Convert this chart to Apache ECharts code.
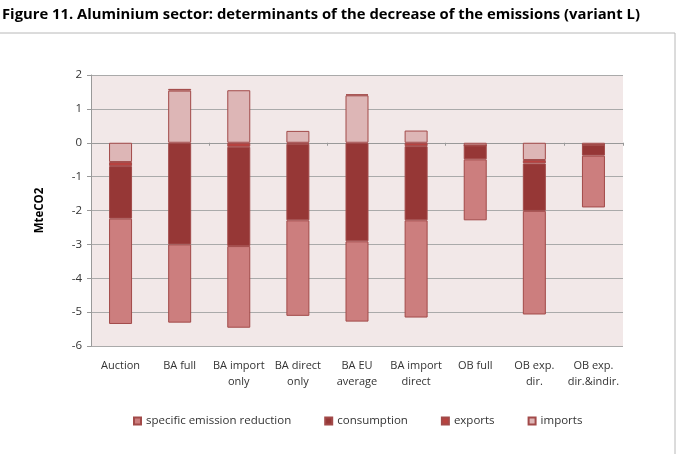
<!DOCTYPE html>
<html>
<head>
<meta charset="utf-8">
<script src="https://cdn.jsdelivr.net/npm/echarts@6/dist/echarts.min.js"></script>
<style>
html,body{margin:0;padding:0;background:#fff;}
#chart{width:679px;height:454px;}
</style>
</head>
<body>
<div id="chart"></div>
<script type="text/javascript">
var categories = ['Auction', 'BA full', 'BA import\nonly', 'BA direct\nonly', 'BA EU\naverage', 'BA import\ndirect', 'OB full', 'OB exp.\ndir.', 'OB exp.\ndir.&indir.'];
var specificReduction = [-3.11, -2.31, -2.41, -2.82, -2.37, -2.87, -1.80, -3.06, -1.53];
var consumption = [-1.55, -3.00, -2.93, -2.26, -2.91, -2.19, -0.41, -1.40, -0.32];
var exportsVals = [-0.12, 0.05, -0.12, -0.03, 0.03, -0.10, 0, -0.10, 0];
var importsVals = [-0.57, 1.54, 1.55, 0.35, 1.40, 0.36, -0.08, -0.51, -0.06];

var fnt = 'Open Sans';
var barBorder = '#A24A49';
function mkSeries(name, data, color) {
    return {
        name: name,
        type: 'bar',
        stack: 'total',
        barWidth: 23,
        data: data,
        itemStyle: {color: color, borderColor: barBorder, borderWidth: 1},
        emphasis: {disabled: true}
    };
}

var chart = echarts.init(document.getElementById('chart'));
var option = {
    animation: false,
    backgroundColor: '#ffffff',
    textStyle: {fontFamily: fnt},
    title: {
        text: 'Figure 11. Aluminium sector: determinants of the decrease of the emissions (variant L)',
        left: -3,
        top: 2,
        textStyle: {fontFamily: fnt, fontSize: 14.8, fontWeight: 'bold', color: '#000'}
    },
    graphic: [{
        type: 'rect',
        shape: {x: -5, y: 33, width: 680, height: 430},
        style: {fill: 'none', stroke: '#B8B8B8', lineWidth: 1},
        silent: true
    }],
    grid: {left: 91, right: 56, top: 75, bottom: 108, backgroundColor: '#F2E8E8', show: true, borderWidth: 0},
    legend: {
        data: ['specific emission reduction', 'consumption', 'exports', 'imports'],
        top: 415,
        left: 133,
        padding: 0,
        itemWidth: 7,
        itemHeight: 7,
        itemGap: 33,
        icon: 'rect',
        textStyle: {fontFamily: fnt, fontSize: 11.5, color: '#333'}
    },
    xAxis: [{
        type: 'category',
        data: categories,
        position: 'bottom',
        axisLine: {show: false, onZero: false},
        axisTick: {show: false},
        axisLabel: {interval: 0, fontFamily: fnt, fontSize: 11, color: '#333', lineHeight: 16, margin: 12}
    }, {
        type: 'category',
        data: categories,
        position: 'bottom',
        axisLine: {onZero: true, lineStyle: {color: '#999', width: 1}},
        axisTick: {show: true, length: 3, lineStyle: {color: '#999'}},
        axisLabel: {show: false}
    }],
    yAxis: {
        type: 'value',
        min: -6,
        max: 2,
        interval: 1,
        name: 'MteCO2',
        nameLocation: 'middle',
        nameGap: 45,
        nameTextStyle: {fontFamily: fnt, fontSize: 11.5, fontWeight: 'bold', color: '#000'},
        axisLine: {show: true, lineStyle: {color: '#999'}},
        axisTick: {show: true, length: 4, lineStyle: {color: '#999'}},
        axisLabel: {fontFamily: fnt, fontSize: 11.5, color: '#333', margin: 9},
        splitLine: {lineStyle: {color: '#AAAAAA', width: 1}}
    },
    series: [
        mkSeries('imports', importsVals, '#DDB6B6'),
        mkSeries('exports', exportsVals, '#B8423F'),
        mkSeries('consumption', consumption, '#963736'),
        mkSeries('specific emission reduction', specificReduction, '#CC7E7E')
    ]
};
chart.setOption(option);
</script>
</body>
</html>
